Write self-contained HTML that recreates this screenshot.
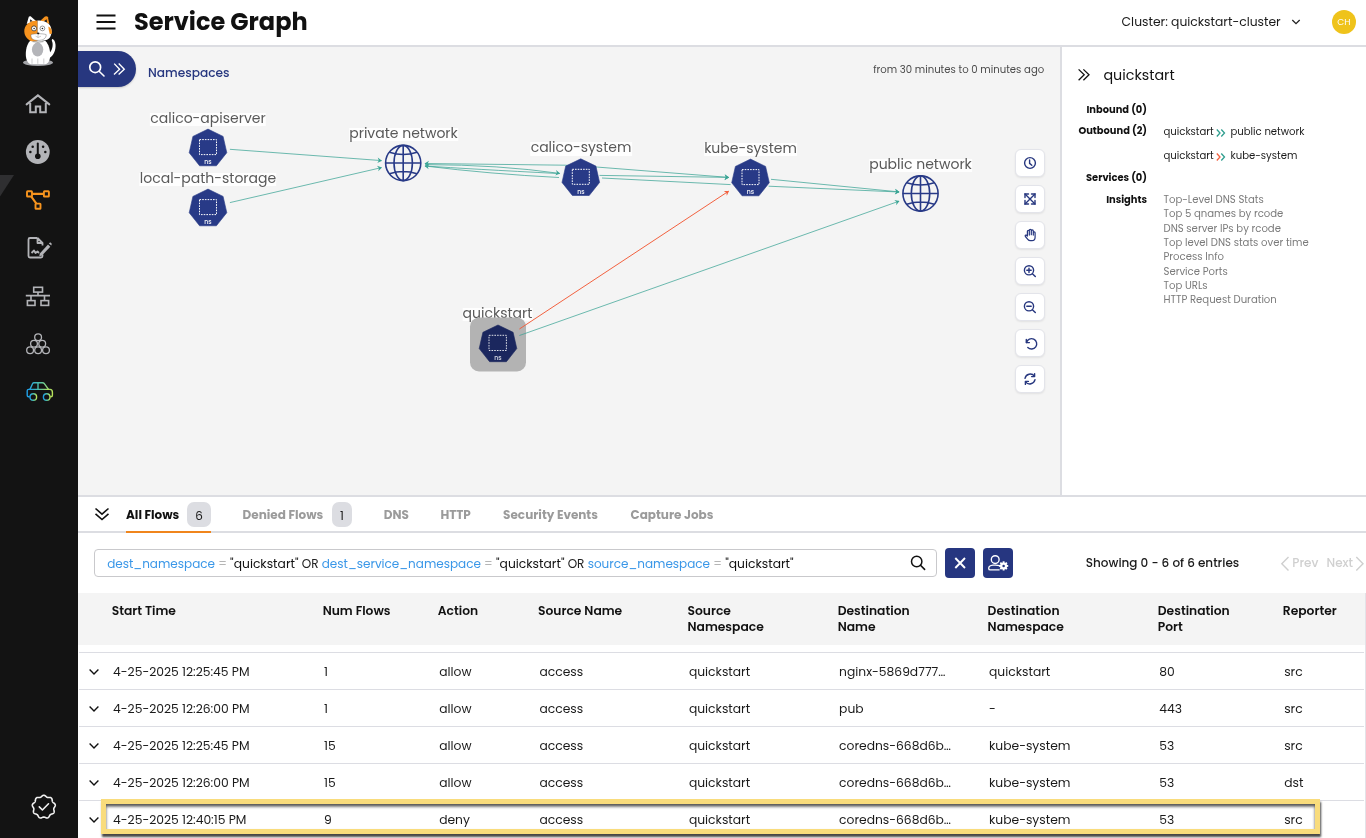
<!DOCTYPE html>
<html><head><meta charset="utf-8"><title>Service Graph</title>
<style>
*{box-sizing:border-box;margin:0;padding:0}
html,body{width:1366px;height:838px;overflow:hidden;background:#fff}
body{position:relative;font-family:Poppins,"DejaVu Sans","Liberation Sans",sans-serif;color:#1a1a1a}
.abs{position:absolute;white-space:nowrap}
#sidebar{left:0;top:0;width:78px;height:838px;background:#131313}
#header{left:78px;top:0;width:1288px;height:45px;background:#fff}
#hline{left:78px;top:45px;width:1288px;height:2px;background:#dcdde2}
#graph{left:78px;top:47px;width:982px;height:448px;background:#f4f4f4;overflow:hidden}
#vdiv{left:1060px;top:47px;width:2px;height:448px;background:#dcdde2}
#panel{left:1062px;top:47px;width:304px;height:448px;background:#fff}
#hdiv{left:78px;top:495px;width:1288px;height:2px;background:#dcdde2}
#tabs{left:78px;top:497px;width:1288px;height:34px;background:#fff}
#tline{left:78px;top:531px;width:1288px;height:2px;background:#dcdde2}
#thead{left:78px;top:593px;width:1287px;height:52px;background:#f4f4f4}
.title{left:134px;top:4.3px;font-size:24px;font-weight:700;line-height:36px;color:#111}
.lbl{transform:translateX(-50%);font-size:14px;line-height:13.3px;height:13.3px;background:rgba(255,255,255,.85);color:#595959;padding:0 .5px}
.lbl span{position:relative;top:-1px}
.tbtn{width:30px;height:28px;background:#fff;border:1px solid #e3e4ea;border-radius:6px;box-shadow:0 1px 2px rgba(0,0,0,.08)}
.tbtn svg{position:absolute;left:-1px;top:-1px}
.p10{font-size:10px;line-height:14px;color:#111;margin-top:.6px}
.tab{top:506.7px;font-size:12px;line-height:16px;font-weight:700;color:#9b9b9b}
.badge{top:502px;height:24.7px;border-radius:7px;background:#dcdde2;font-size:12px;line-height:21.7px;padding-top:3px;text-align:center;color:#1a1a1a}
.fk{color:#3a97e8}.fo{color:#b5b5b5}.fv{color:#111;font-weight:400;font-size:12.3px}
.nbtn{top:548px;width:30px;height:30px;border-radius:4px;background:#263680}
.nbtn svg{display:block}
.th{top:602.7px;font-size:12.3px;line-height:16px;font-weight:600;color:#111}
.td{font-size:12.3px;line-height:16px;color:#1a1a1a}
.rline{left:79px;width:1285px;height:1px;background:#dcdde3}
.hl{left:101px;top:799px;width:1219px;height:35px;border:5px solid #f9dc7c;box-shadow:1px 2.5px 2px rgba(0,0,0,.72), inset 0 2.5px 3px rgba(0,0,0,.68)}
</style></head>
<body>
<div id="root" style="position:absolute;left:0;top:0;width:1366px;height:838px;overflow:hidden;background:#fff;will-change:transform">
<div id="sidebar" class="abs"></div>
<svg class="abs" style="left:0;top:0" width="78" height="838" viewBox="0 0 78 838">
  <!-- active indicator -->
  <polygon points="0,175 14,175 0,196.4" fill="#2f2f31"/>
  <!-- cat logo -->
  <g>
    <ellipse cx="38" cy="62.6" rx="15" ry="3.4" fill="#a3a4a8"/>
    <path d="M49.5 58 C53.5 56 56 50 55.5 44.5 C55.2 41.5 54 39.5 52.6 39 C51.6 39 51.6 40.5 52.3 42 C53.2 45 52.5 50.5 48.8 54 Z" fill="#fff"/>
    <path d="M30 41 C27 44 25.6 50 25.8 55 C26 60 28 63.8 31 64.3 L45 64.3 C48.5 63.8 50.2 60 50.2 55 C50.2 49.5 48.5 44 45.5 41 Z" fill="#fff"/>
    <ellipse cx="37.6" cy="49.6" rx="5.7" ry="7" fill="#b4b5b9"/>
    <path d="M32 58.5 V63.8 M37.8 58.5 V63.8 M43.8 58.5 V63.8" stroke="#9a9a9e" stroke-width=".5"/>
    <path d="M26.7 24 L28.8 16.8 Q29.5 15.8 30.6 16.3 L36 21 Z" fill="#fff"/>
    <path d="M29.8 21.8 L30.4 19.3 L33 21.6 Z" fill="#222"/>
    <path d="M40.3 20.8 L45 16.6 Q47.3 15.6 48 17.3 L49.3 24 Z" fill="#f7931e"/>
    <path d="M43.6 21.5 L46.6 19.2 L47.2 22.8 Z" fill="#222"/>
    <path d="M37.4 20.6 C31.5 20.6 25.6 23.6 24.4 29.5 C23.6 34.5 26.6 39.5 31.4 41.2 L37.4 41.2 Z" fill="#f7931e"/>
    <path d="M37.4 20.6 C43.5 20.6 49 22.6 50.8 27 C52.3 30.5 51.6 35.5 49.5 38 C47.5 40.4 43 41.2 37.4 41.2 Z" fill="#fff"/>
    <path d="M48.3 26.6 C50.8 27.5 52.2 30 51.9 33.6 L49.8 34.2 C49 31.5 48.5 29 48.3 26.6 Z" fill="#f7931e"/>
    <path d="M37.4 21 V33" stroke="#c87a1e" stroke-width=".35"/>
    <circle cx="34" cy="28.4" r="2.5" fill="#fff" stroke="#222" stroke-width=".7"/>
    <circle cx="42.4" cy="28.4" r="2.4" fill="#fff" stroke="#555" stroke-width=".6"/>
    <circle cx="34.1" cy="28.5" r=".8" fill="#222"/>
    <circle cx="42.4" cy="28.5" r=".8" fill="#222"/>
    <path d="M31 34.6 C30.5 38.6 33 40.4 38 40.4 C43 40.4 46.3 38.6 46.2 34.6 C43 33.4 34 33.4 31 34.6 Z" fill="#fff" stroke="#666" stroke-width=".45"/>
    <path d="M35.6 36.2 Q38 38.6 41 36.2 M38 34 V38" fill="none" stroke="#888" stroke-width=".4"/>
    <path d="M36.6 33 Q38.2 32.2 39.6 33 L38.2 34.5 Z" fill="#111"/>
    <path d="M32.5 41.6 Q38 42.6 43.5 41.6" fill="none" stroke="#555" stroke-width=".6"/>
  </g>
  <!-- home -->
  <path d="M26.6 104.4 L37.9 95.4 L49.3 104.4 M30.2 101.6 V112.2 H35.8 V106.4 H40.2 V112.2 H45.8 V101.6" fill="none" stroke="#b3b4b8" stroke-width="2" stroke-linejoin="miter" stroke-linecap="round"/>
  <!-- gauge -->
  <circle cx="37.8" cy="152" r="11.9" fill="#b3b4b8"/>
  <path d="M37.8 143.6 V155" stroke="#131313" stroke-width="2" stroke-linecap="round"/>
  <circle cx="37.8" cy="156.3" r="2.8" fill="#131313"/>
  <circle cx="32.7" cy="146.8" r="1.25" fill="#131313"/>
  <circle cx="43.1" cy="146.8" r="1.25" fill="#131313"/>
  <circle cx="30.4" cy="151.9" r="1.25" fill="#131313"/>
  <circle cx="45.3" cy="151.9" r="1.25" fill="#131313"/>
  <!-- service graph icon (active) -->
  <g fill="none" stroke="#f7941e" stroke-width="1.9" stroke-linejoin="round">
    <rect x="27" y="191.3" width="5" height="5.2" rx=".6"/>
    <rect x="43.9" y="191.3" width="5" height="5.2" rx=".6"/>
    <rect x="35.5" y="203.6" width="5" height="5.2" rx=".6"/>
    <path d="M32 193.9 H43.9 M31.3 196.6 L36.4 203.6" stroke-width="2.1"/>
  </g>
  <!-- document/pen icon -->
  <g fill="none" stroke="#b3b4b8" stroke-width="1.8" stroke-linejoin="round">
    <path d="M37.5 238 H30 Q28.5 238 28.5 239.5 V256 Q28.5 257.5 30 257.5 H41 Q42.5 257.5 42.5 256 V254.5"/>
    <path d="M37.5 238 L42.5 243 V245.5 M37.5 238 V243 H42.5"/>
    <path d="M31.5 253 L34 250.5 L35.5 253 L37.5 251.5 L39 253"/>
  </g>
  <path d="M39.8 253.5 L48 244.5 L50.3 246.8 L42 255.5 L39.3 256.2 Z" fill="#b3b4b8"/>
  <path d="M48.8 243.6 L50.2 242.2 L51.8 243.8 L51.3 245.5 Z" fill="#b3b4b8"/>
  <!-- network icon -->
  <g fill="none" stroke="#b3b4b8" stroke-width="1.6">
    <rect x="33.7" y="287.3" width="8.8" height="4.8"/>
    <path d="M38 292 V295.5 M25.8 295.6 H50 M31 295.5 V300.3 M44.5 295.5 V300.3"/>
    <rect x="27.4" y="300.6" width="7.6" height="4.8"/>
    <rect x="41" y="300.6" width="7.6" height="4.8"/>
  </g>
  <!-- circles pyramid -->
  <g fill="none" stroke="#b3b4b8" stroke-width="1.3">
    <circle cx="38.1" cy="337.2" r="3.4"/>
    <circle cx="34" cy="343.7" r="3.4"/>
    <circle cx="42.2" cy="343.7" r="3.4"/>
    <circle cx="30.1" cy="350.3" r="3.4"/>
    <circle cx="38.1" cy="350.3" r="3.4"/>
    <circle cx="46" cy="350.3" r="3.4"/>
  </g>
  <!-- car -->
  <defs>
    <linearGradient id="carg" x1="0" y1="0" x2="1" y2="0">
      <stop offset="0" stop-color="#1e9ee8"/>
      <stop offset="0.5" stop-color="#4fc0a8"/>
      <stop offset="1" stop-color="#b8e25a"/>
    </linearGradient>
  </defs>
  <g fill="none" stroke="url(#carg)" stroke-width="1.4" stroke-linejoin="round" transform="translate(0 0.8)">
    <path d="M29.8 396 H28.5 Q27.2 396 27.2 394.5 V390 Q27.2 388.6 28.6 388.6 L30 388.6 L32.5 383 Q33 382 34 382 H42.5 Q43.5 382 44.3 382.8 L48.5 388.6 H50 Q52.4 388.8 52.4 391.4 V394.5 Q52.4 396 51 396 H50.2"/>
    <path d="M36.8 396 H43.2"/>
    <path d="M29 388.6 H49 M38 382.2 V388.6"/>
    <circle cx="33.3" cy="396.2" r="3.3"/>
    <circle cx="46.7" cy="396.2" r="3.3"/>
  </g>
  <!-- badge check -->
  <path d="M43.80 795.25 L44.26 795.31 L44.70 795.47 L45.12 795.71 L45.52 796.02 L45.90 796.35 L46.25 796.68 L46.60 796.98 L46.95 797.21 L47.31 797.38 L47.71 797.47 L48.13 797.50 L48.59 797.49 L49.08 797.47 L49.59 797.46 L50.09 797.49 L50.56 797.59 L51.00 797.77 L51.36 798.04 L51.66 798.40 L51.88 798.82 L52.03 799.29 L52.13 799.78 L52.20 800.28 L52.26 800.75 L52.34 801.19 L52.47 801.59 L52.66 801.94 L52.92 802.25 L53.24 802.55 L53.61 802.84 L54.00 803.14 L54.39 803.46 L54.74 803.82 L55.02 804.21 L55.21 804.63 L55.30 805.08 L55.27 805.54 L55.15 806.01 L54.95 806.46 L54.70 806.90 L54.43 807.32 L54.18 807.72 L53.97 808.10 L53.83 808.49 L53.77 808.88 L53.78 809.30 L53.84 809.73 L53.95 810.20 L54.05 810.68 L54.14 811.18 L54.16 811.68 L54.11 812.15 L53.96 812.59 L53.72 812.98 L53.38 813.30 L52.97 813.57 L52.52 813.77 L52.04 813.94 L51.57 814.09 L51.13 814.23 L50.74 814.40 L50.39 814.62 L50.10 814.89 L49.85 815.23 L49.62 815.62 L49.40 816.04 L49.17 816.49 L48.90 816.92 L48.59 817.30 L48.24 817.61 L47.83 817.83 L47.39 817.94 L46.92 817.96 L46.44 817.88 L45.96 817.73 L45.49 817.55 L45.04 817.36 L44.61 817.20 L44.20 817.09 L43.80 817.05 L43.40 817.09 L42.99 817.20 L42.56 817.36 L42.11 817.55 L41.64 817.73 L41.16 817.88 L40.68 817.96 L40.21 817.94 L39.77 817.83 L39.36 817.61 L39.01 817.30 L38.70 816.92 L38.43 816.49 L38.20 816.04 L37.98 815.62 L37.75 815.23 L37.50 814.89 L37.21 814.62 L36.86 814.40 L36.47 814.23 L36.03 814.09 L35.56 813.94 L35.08 813.77 L34.63 813.57 L34.22 813.30 L33.88 812.98 L33.64 812.59 L33.49 812.15 L33.44 811.68 L33.46 811.18 L33.55 810.68 L33.65 810.20 L33.76 809.73 L33.82 809.30 L33.83 808.88 L33.77 808.49 L33.63 808.10 L33.42 807.72 L33.17 807.32 L32.90 806.90 L32.65 806.46 L32.45 806.01 L32.33 805.54 L32.30 805.08 L32.39 804.63 L32.58 804.21 L32.86 803.82 L33.21 803.46 L33.60 803.14 L33.99 802.84 L34.36 802.55 L34.68 802.25 L34.94 801.94 L35.13 801.59 L35.26 801.19 L35.34 800.75 L35.40 800.28 L35.47 799.78 L35.57 799.29 L35.72 798.82 L35.94 798.40 L36.24 798.04 L36.60 797.77 L37.04 797.59 L37.51 797.49 L38.01 797.46 L38.52 797.47 L39.01 797.49 L39.47 797.50 L39.89 797.47 L40.29 797.38 L40.65 797.21 L41.00 796.98 L41.35 796.68 L41.70 796.35 L42.08 796.02 L42.48 795.71 L42.90 795.47 L43.34 795.31 L43.80 795.25 Z" fill="none" stroke="#f2f2f2" stroke-width="1.6" stroke-linejoin="round"/>
  <path d="M39.3 806.9 L42.4 810 L48.5 803.8" fill="none" stroke="#f2f2f2" stroke-width="1.6" stroke-linecap="round" stroke-linejoin="round"/>
</svg>

<div id="header" class="abs"></div>
<svg class="abs" style="left:96px;top:14px" width="20" height="16" viewBox="0 0 20 16">
  <path d="M0.5 1.5 H19.5 M0.5 8 H19.5 M0.5 14.5 H19.5" stroke="#111" stroke-width="1.8"/>
</svg>
<div class="abs title">Service Graph</div>

<div class="abs" style="left:1121.6px;top:13.7px;font-size:12.32px;line-height:16px;color:#1a1a1a">Cluster: quickstart-cluster</div>
<svg class="abs" style="left:1291px;top:18px" width="10" height="8" viewBox="0 0 10 8"><path d="M1.3 2 L5 5.7 L8.7 2" fill="none" stroke="#222" stroke-width="1.3"/></svg>
<div class="abs" style="left:1332px;top:10px;width:24px;height:24px;border-radius:50%;background:#efc31b;color:#fff;font-size:9px;line-height:24px;text-align:center;letter-spacing:.2px">CH</div>
<div id="hline" class="abs"></div>
<div id="graph" class="abs"></div>
<div class="abs lbl" style="left:497.5px;top:308.2px"><span>quickstart</span></div>
<svg class="abs" style="left:78px;top:47px" width="982" height="448" viewBox="78 47 982 448">
  <defs>
    <marker id="ag" viewBox="-5 -4 6 8" markerWidth="6" markerHeight="8" refX="0" refY="0" orient="auto" markerUnits="userSpaceOnUse">
      <path d="M0.5 0 L-4 -2.8 L-2.6 0 L-4 2.8 Z" fill="#3aa595"/>
    </marker>
    <marker id="ar" viewBox="-5 -4 6 8" markerWidth="6" markerHeight="8" refX="0" refY="0" orient="auto" markerUnits="userSpaceOnUse">
      <path d="M0.5 0 L-4 -2.8 L-2.6 0 L-4 2.8 Z" fill="#f2613f"/>
    </marker>
    <g id="hept">
      <path d="M0 -19.3 L15.1 -12 L18.8 4.3 L8.4 17.4 L-8.4 17.4 L-18.8 4.3 L-15.1 -12 Z" stroke-linejoin="round" stroke-width=".6"/>
    </g>
    <g id="globe" fill="none" stroke="#283a87" stroke-width="1.6">
      <circle cx="0" cy="0" r="17.6"/>
      <ellipse cx="0" cy="0" rx="9.2" ry="17.6"/>
      <path d="M0 -17.6 V17.6 M-17.6 0 H17.6 M-13.8 -10.8 Q0 -6.2 13.8 -10.8 M-13.8 10.8 Q0 6.2 13.8 10.8"/>
    </g>
  </defs>
  <!-- quickstart highlight -->
  <rect x="470" y="317.5" width="56" height="54" rx="9" fill="#b3b3b3"/>
  <g fill="none" stroke="#3fa697" stroke-width=".9" stroke-opacity=".85">
    <path d="M229.9 149.3 L381.5 160.6" marker-end="url(#ag)"/>
    <path d="M229.9 202.6 L381.5 167.6" marker-end="url(#ag)"/>
    <path d="M597.5 167.1 L565 165.2 L425 163.5" marker-end="url(#ag)"/>
    <path d="M597.5 167.1 L728.6 177.4" marker-end="url(#ag)"/>
    <path d="M559 177.5 Q490 174 425 166" marker-end="url(#ag)"/>
    <path d="M425 164.6 Q500 164.8 559.6 173.4" marker-end="url(#ag)"/>
    <path d="M425 166 Q470 169 559.6 173.6"/>
    <path d="M599.5 175.4 L728.6 177.4" marker-end="url(#ag)"/>
    <path d="M602 178 L730.6 184.6"/>
    <path d="M771 179.3 L899 191.9" marker-end="url(#ag)"/>
    <path d="M768.6 186.2 L899 192" marker-end="url(#ag)"/>
    <path d="M519.4 335.5 L899 201.2" marker-end="url(#ag)"/>
  </g>
  <path d="M519.4 329 L728.6 191.2" fill="none" stroke="#f2613f" stroke-width="1" marker-end="url(#ar)"/>
  <!-- nodes -->
  <g fill="#283a87" stroke="#283a87">
    <use href="#hept" x="208" y="148.4"/>
    <use href="#hept" x="208" y="208.4"/>
    <use href="#hept" x="580.8" y="178.1"/>
    <use href="#hept" x="750.5" y="178.4"/>
  </g>
  <g fill="#1b275e" stroke="#1b275e">
    <use href="#hept" x="498" y="344.3"/>
  </g>
  <g fill="none" stroke="#fff" stroke-width="1" stroke-dasharray="1.6 1.1">
    <rect x="199.5" y="139.6" width="17" height="15"/>
    <rect x="199.5" y="199.6" width="17" height="15"/>
    <rect x="572.3" y="169.3" width="17" height="15"/>
    <rect x="742.0" y="169.6" width="17" height="15"/>
    <rect x="489.0" y="335.3" width="17.4" height="15.2" stroke-opacity=".85"/>
  </g>
  <g fill="#fff" font-size="6.2" font-weight="500" text-anchor="middle" font-family="Poppins, 'DejaVu Sans', 'Liberation Sans', sans-serif">
    <text x="208" y="164.3">ns</text>
    <text x="208" y="224.3">ns</text>
    <text x="580.8" y="194">ns</text>
    <text x="750.5" y="194.3">ns</text>
    <text x="498" y="360.2" fill-opacity=".85">ns</text>
  </g>
  <use href="#globe" x="403.2" y="163"/>
  <use href="#globe" x="920.5" y="193.5"/>
</svg>
<div class="abs lbl" style="left:208px;top:112.7px"><span>calico-apiserver</span></div>
<div class="abs lbl" style="left:208px;top:172.7px"><span>local-path-storage</span></div>
<div class="abs lbl" style="left:403.5px;top:127.5px"><span>private network</span></div>
<div class="abs lbl" style="left:581px;top:142.4px"><span>calico-system</span></div>
<div class="abs lbl" style="left:750.5px;top:142.7px"><span>kube-system</span></div>
<div class="abs lbl" style="left:920.5px;top:158.5px"><span>public network</span></div>


<div class="abs" style="left:78px;top:51px;width:58px;height:36px;background:#27377f;border-radius:0 18px 18px 0;box-shadow:0 1px 2px rgba(0,0,0,.18)"></div>
<svg class="abs" style="left:84px;top:56px" width="46" height="26" viewBox="84 56 46 26">
  <g fill="none" stroke="#fff" stroke-width="1.6" stroke-linecap="round">
    <circle cx="95.2" cy="67.2" r="5.4" stroke-width="1.7"/>
    <path d="M99.4 71.5 L104 76"/>
    <path d="M114.2 63.6 L119.6 69.2 L114 74.6 M118.7 63.6 L124.3 69.2 L118.6 74.6" stroke-linecap="butt" stroke-width="1.35"/>
  </g>
</svg>
<div class="abs" style="left:148px;top:64px;font-size:12.2px;line-height:18px;font-weight:500;color:#27377f">Namespaces</div>
<div class="abs" style="left:873.2px;top:62px;font-size:10.1px;line-height:16px;color:#4a4a4a">from 30 minutes to 0 minutes ago</div>
<div class="abs tbtn" style="left:1014.5px;top:149px"><svg width="30" height="28" viewBox="0 0 30 28" fill="none" stroke="#27377f" stroke-width="1.4" stroke-linecap="round" stroke-linejoin="round"><circle cx="15" cy="14" r="5.4"/><path d="M14.6 11 V14.4 L16.8 16.3"/></svg></div>
<div class="abs tbtn" style="left:1014.5px;top:185px"><svg width="30" height="28" viewBox="0 0 30 28" fill="none" stroke="#27377f" stroke-width="1.4" stroke-linecap="round" stroke-linejoin="round"><path d="M10 9 L20 19 M20 9 L10 19"/><path d="M10 12.5 V9 H13.5 M16.5 9 H20 V12.5 M20 15.5 V19 H16.5 M13.5 19 H10 V15.5" stroke-linejoin="miter"/></svg></div>
<div class="abs tbtn" style="left:1014.5px;top:221px"><svg width="30" height="28" viewBox="0 0 30 28" fill="none" stroke="#27377f" stroke-width="1.4" stroke-linecap="round" stroke-linejoin="round"><path transform="translate(-0.8 -0.9)" d="M13.2 16 V11.2 Q13.2 10.2 14.2 10.2 Q15.1 10.2 15.1 11.2 V15 M15.1 14.6 V10.2 Q15.1 9.2 16.1 9.2 Q17.1 9.2 17.1 10.2 V14.6 M17.1 14.6 V10.8 Q17.1 9.8 18.1 9.8 Q19.1 9.8 19.1 10.8 V15 M19.1 12.6 Q19.1 11.7 20 11.7 Q20.9 11.7 20.9 12.6 V17.2 Q20.9 20.6 17.8 20.6 H16.2 Q14.6 20.6 13.6 19.2 L11.2 16.4 Q10.6 15.4 11.5 15 Q12.4 14.7 13.2 15.9" stroke-width="1.2"/></svg></div>
<div class="abs tbtn" style="left:1014.5px;top:257px"><svg width="30" height="28" viewBox="0 0 30 28" fill="none" stroke="#27377f" stroke-width="1.4" stroke-linecap="round" stroke-linejoin="round"><circle cx="14" cy="13.3" r="4.6"/><path d="M17.4 16.7 L20.3 19.6 M11.8 13.3 H16.2 M14 11.1 V15.5"/></svg></div>
<div class="abs tbtn" style="left:1014.5px;top:293px"><svg width="30" height="28" viewBox="0 0 30 28" fill="none" stroke="#27377f" stroke-width="1.4" stroke-linecap="round" stroke-linejoin="round"><circle cx="14" cy="13.3" r="4.6"/><path d="M17.4 16.7 L20.3 19.6 M11.8 13.3 H16.2"/></svg></div>
<div class="abs tbtn" style="left:1014.5px;top:329px"><svg width="30" height="28" viewBox="0 0 30 28" fill="none" stroke="#27377f" stroke-width="1.4" stroke-linecap="round" stroke-linejoin="round"><path d="M11.3 10.5 V13.6 H14.4"/><path d="M11.5 13.5 A5.2 5.2 0 1 1 12.8 18.5"/></svg></div>
<div class="abs tbtn" style="left:1014.5px;top:365px"><svg width="30" height="28" viewBox="0 0 30 28" fill="none" stroke="#27377f" stroke-width="1.4" stroke-linecap="round" stroke-linejoin="round"><path d="M10 13.3 A5.3 5.3 0 0 1 19.4 11.2 M20 14.7 A5.3 5.3 0 0 1 10.6 16.8"/><path d="M19.6 8.6 V11.6 H16.6 M10.4 19.4 V16.4 H13.4"/></svg></div>
<div id="vdiv" class="abs"></div>
<div id="panel" class="abs"></div>
<svg class="abs" style="left:1076px;top:67px" width="16" height="16" viewBox="1076 67 16 16"><path d="M1078.6 69.4 L1084.2 74.8 L1078.6 80.2 M1083.4 69.4 L1089 74.8 L1083.4 80.2" fill="none" stroke="#111" stroke-width="1.3"/></svg>
<div class="abs" style="left:1103.4px;top:65.2px;font-size:14.3px;line-height:20px;color:#111">quickstart</div>
<div class="abs p10" style="right:219px;top:102.5px;font-weight:700;font-size:9.9px">Inbound (0)</div>
<div class="abs p10" style="right:219px;top:123.9px;font-weight:700;font-size:9.9px">Outbound (2)</div>
<div class="abs p10" style="right:219px;top:170.7px;font-weight:700;font-size:9.9px">Services (0)</div>
<div class="abs p10" style="right:219px;top:192.3px;font-weight:700;font-size:9.9px">Insights</div>
<div class="abs p10" style="left:1163.5px;top:124.7px;color:#1a1a1a;font-size:10.1px">quickstart</div>
<div class="abs" style="left:0;top:0"><svg width="10" height="10" viewBox="0 0 10 10" style="position:absolute;left:1216px;top:128.2px"><path d="M0.8 1.5 L4 5 L0.8 8.5" fill="none" stroke="#2f9e8f" stroke-width="1.3"/><path d="M5.3 1.5 L8.5 5 L5.3 8.5" fill="none" stroke="#2f9e8f" stroke-width="1.3"/></svg></div>
<div class="abs p10" style="left:1230.5px;top:124.7px;color:#1a1a1a;font-size:10.1px">public network</div>
<div class="abs p10" style="left:1163.5px;top:148.1px;color:#1a1a1a;font-size:10.1px">quickstart</div>
<div class="abs" style="left:0;top:0"><svg width="10" height="10" viewBox="0 0 10 10" style="position:absolute;left:1216px;top:151.6px"><path d="M0.8 1.5 L4 5 L0.8 8.5" fill="none" stroke="#f2613f" stroke-width="1.3"/><path d="M5.3 1.5 L8.5 5 L5.3 8.5" fill="none" stroke="#2f9e8f" stroke-width="1.3"/></svg></div>
<div class="abs p10" style="left:1230.5px;top:148.1px;color:#1a1a1a;font-size:10.1px">kube-system</div>
<div class="abs p10" style="left:1163.5px;top:192.3px;color:#7b7b7b;font-size:10.1px">Top-Level DNS Stats</div>
<div class="abs p10" style="left:1163.5px;top:206.7px;color:#7b7b7b;font-size:10.1px">Top 5 qnames by rcode</div>
<div class="abs p10" style="left:1163.5px;top:221.3px;color:#7b7b7b;font-size:10.1px">DNS server IPs by rcode</div>
<div class="abs p10" style="left:1163.5px;top:235.7px;color:#7b7b7b;font-size:10.1px">Top level DNS stats over time</div>
<div class="abs p10" style="left:1163.5px;top:249.4px;color:#7b7b7b;font-size:10.1px">Process Info</div>
<div class="abs p10" style="left:1163.5px;top:264.3px;color:#7b7b7b;font-size:10.1px">Service Ports</div>
<div class="abs p10" style="left:1163.5px;top:278.4px;color:#7b7b7b;font-size:10.1px">Top URLs</div>
<div class="abs p10" style="left:1163.5px;top:292.5px;color:#7b7b7b;font-size:10.1px">HTTP Request Duration</div>

<div id="hdiv" class="abs"></div>
<div id="tabs" class="abs"></div>
<div id="tline" class="abs"></div>
<svg class="abs" style="left:93px;top:506px" width="18" height="16" viewBox="93 506 18 16"><path d="M95.5 508.5 L102 514.2 L108.5 508.5 M95.5 513.8 L102 519.5 L108.5 513.8" fill="none" stroke="#111" stroke-width="1.6"/></svg>
<div class="abs tab" style="left:126px;color:#111">All Flows</div>
<div class="abs badge" style="left:187px;width:24px">6</div>
<div class="abs" style="left:126px;top:531px;width:85px;height:2px;background:#f0851c"></div>
<div class="abs tab" style="left:242.6px">Denied Flows</div>
<div class="abs badge" style="left:332px;width:20px">1</div>
<div class="abs tab" style="left:383.7px">DNS</div>
<div class="abs tab" style="left:440.4px">HTTP</div>
<div class="abs tab" style="left:503.1px">Security Events</div>
<div class="abs tab" style="left:630.5px">Capture Jobs</div>

<div id="thead" class="abs"></div>

<div class="abs" style="left:94px;top:549px;width:843px;height:28px;border:1px solid #c9c9cc;border-radius:4px;background:#fff"></div>
<div class="abs" style="left:107.2px;top:555.5px;font-size:12px;line-height:16px;color:#222"><span class="fk">dest_namespace</span> <span class="fo">=</span> <span class="fv">"quickstart"</span> OR <span class="fk">dest_service_namespace</span> <span class="fo">=</span> <span class="fv">"quickstart"</span> OR <span class="fk">source_namespace</span> <span class="fo">=</span> <span class="fv">"quickstart"</span></div>
<svg class="abs" style="left:908px;top:553px" width="22" height="22" viewBox="908 553 22 22"><circle cx="916.7" cy="561.5" r="5.2" fill="none" stroke="#111" stroke-width="1.5"/><path d="M920.5 565.3 L924.6 569.4" stroke="#111" stroke-width="1.6" stroke-linecap="round"/></svg>
<div class="abs nbtn" style="left:945px"><svg width="30" height="30" viewBox="0 0 30 30"><path d="M10.3 10 L20 20 M20 10 L10.3 20" stroke="#fff" stroke-width="1.9"/></svg></div>
<div class="abs nbtn" style="left:983px"><svg width="30" height="30" viewBox="0 0 30 30"><g fill="none" stroke="#fff" stroke-width="1.35"><circle cx="12.2" cy="11.6" r="3.9"/><path d="M16.6 21.9 H7.2 Q5.7 21.9 5.7 20.4 Q5.7 17.4 10 17.1 Q11.5 17.1 12.6 17.1 Q14.8 17.1 16.3 17.6"/></g><g transform="translate(20.6 17.9)" fill="#fff"><circle r="3.5"/><rect x="-0.95" y="-4.6" width="1.9" height="2.4" transform="rotate(0)"/><rect x="-0.95" y="-4.6" width="1.9" height="2.4" transform="rotate(45)"/><rect x="-0.95" y="-4.6" width="1.9" height="2.4" transform="rotate(90)"/><rect x="-0.95" y="-4.6" width="1.9" height="2.4" transform="rotate(135)"/><rect x="-0.95" y="-4.6" width="1.9" height="2.4" transform="rotate(180)"/><rect x="-0.95" y="-4.6" width="1.9" height="2.4" transform="rotate(225)"/><rect x="-0.95" y="-4.6" width="1.9" height="2.4" transform="rotate(270)"/><rect x="-0.95" y="-4.6" width="1.9" height="2.4" transform="rotate(315)"/><circle r="1.25" fill="#263680"/></g></svg></div>
<div class="abs" style="left:1085.8px;top:554.5px;font-size:12px;line-height:16px;font-weight:500;color:#1a1a1a">Showing 0 - 6 of 6 entries</div>
<svg class="abs" style="left:1280px;top:556px" width="10" height="16" viewBox="0 0 10 16"><path d="M8.5 1 L1.8 7.8 L8.5 14.6" fill="none" stroke="#cfcfcf" stroke-width="1.4"/></svg>
<div class="abs" style="left:1292.3px;top:555px;font-size:12px;line-height:16px;font-weight:500;color:#d0d0d0">Prev</div>
<div class="abs" style="left:1326.5px;top:555px;font-size:12px;line-height:16px;font-weight:500;color:#d0d0d0">Next</div>
<svg class="abs" style="left:1355px;top:556px" width="10" height="16" viewBox="0 0 10 16"><path d="M1.3 1 L8 7.8 L1.3 14.6" fill="none" stroke="#cfcfcf" stroke-width="1.4"/></svg>
<!--TABLE-->
<div class="abs th" style="left:111.7px">Start Time</div>
<div class="abs th" style="left:322.7px">Num Flows</div>
<div class="abs th" style="left:437.8px">Action</div>
<div class="abs th" style="left:538px">Source Name</div>
<div class="abs th" style="left:687.5px">Source<br>Namespace</div>
<div class="abs th" style="left:837.7px">Destination<br>Name</div>
<div class="abs th" style="left:987.6px">Destination<br>Namespace</div>
<div class="abs th" style="left:1157.8px">Destination<br>Port</div>
<div class="abs th" style="left:1282.8px">Reporter</div>
<div class="abs rline" style="top:652px"></div>
<svg class="abs" style="left:88px;top:668px" width="12" height="8" viewBox="0 0 12 8"><path d="M1.6 1.6 L6 5.9 L10.4 1.6" fill="none" stroke="#111" stroke-width="1.4"/></svg>
<div class="abs rline" style="top:689px"></div>
<svg class="abs" style="left:88px;top:705px" width="12" height="8" viewBox="0 0 12 8"><path d="M1.6 1.6 L6 5.9 L10.4 1.6" fill="none" stroke="#111" stroke-width="1.4"/></svg>
<div class="abs rline" style="top:726px"></div>
<svg class="abs" style="left:88px;top:742px" width="12" height="8" viewBox="0 0 12 8"><path d="M1.6 1.6 L6 5.9 L10.4 1.6" fill="none" stroke="#111" stroke-width="1.4"/></svg>
<div class="abs rline" style="top:763px"></div>
<svg class="abs" style="left:88px;top:779px" width="12" height="8" viewBox="0 0 12 8"><path d="M1.6 1.6 L6 5.9 L10.4 1.6" fill="none" stroke="#111" stroke-width="1.4"/></svg>
<div class="abs rline" style="top:800px"></div>
<svg class="abs" style="left:88px;top:816px" width="12" height="8" viewBox="0 0 12 8"><path d="M1.6 1.6 L6 5.9 L10.4 1.6" fill="none" stroke="#111" stroke-width="1.4"/></svg>
<div class="abs td" style="left:113.1px;top:663.5px">4-25-2025 12:25:45 PM</div>
<div class="abs td" style="left:324.1px;top:663.5px">1</div>
<div class="abs td" style="left:439.2px;top:663.5px">allow</div>
<div class="abs td" style="left:539.4px;top:663.5px">access</div>
<div class="abs td" style="left:688.9px;top:663.5px">quickstart</div>
<div class="abs td" style="left:839.1px;top:663.5px">nginx-5869d777…</div>
<div class="abs td" style="left:989.0px;top:663.5px">quickstart</div>
<div class="abs td" style="left:1159.2px;top:663.5px">80</div>
<div class="abs td" style="left:1284.2px;top:663.5px">src</div>
<div class="abs td" style="left:113.1px;top:700.5px">4-25-2025 12:26:00 PM</div>
<div class="abs td" style="left:324.1px;top:700.5px">1</div>
<div class="abs td" style="left:439.2px;top:700.5px">allow</div>
<div class="abs td" style="left:539.4px;top:700.5px">access</div>
<div class="abs td" style="left:688.9px;top:700.5px">quickstart</div>
<div class="abs td" style="left:839.1px;top:700.5px">pub</div>
<div class="abs td" style="left:989.0px;top:700.5px">-</div>
<div class="abs td" style="left:1159.2px;top:700.5px">443</div>
<div class="abs td" style="left:1284.2px;top:700.5px">src</div>
<div class="abs td" style="left:113.1px;top:737.5px">4-25-2025 12:25:45 PM</div>
<div class="abs td" style="left:324.1px;top:737.5px">15</div>
<div class="abs td" style="left:439.2px;top:737.5px">allow</div>
<div class="abs td" style="left:539.4px;top:737.5px">access</div>
<div class="abs td" style="left:688.9px;top:737.5px">quickstart</div>
<div class="abs td" style="left:839.1px;top:737.5px">coredns-668d6b…</div>
<div class="abs td" style="left:989.0px;top:737.5px">kube-system</div>
<div class="abs td" style="left:1159.2px;top:737.5px">53</div>
<div class="abs td" style="left:1284.2px;top:737.5px">src</div>
<div class="abs td" style="left:113.1px;top:774.5px">4-25-2025 12:26:00 PM</div>
<div class="abs td" style="left:324.1px;top:774.5px">15</div>
<div class="abs td" style="left:439.2px;top:774.5px">allow</div>
<div class="abs td" style="left:539.4px;top:774.5px">access</div>
<div class="abs td" style="left:688.9px;top:774.5px">quickstart</div>
<div class="abs td" style="left:839.1px;top:774.5px">coredns-668d6b…</div>
<div class="abs td" style="left:989.0px;top:774.5px">kube-system</div>
<div class="abs td" style="left:1159.2px;top:774.5px">53</div>
<div class="abs td" style="left:1284.2px;top:774.5px">dst</div>
<div class="abs hl"></div>
<div class="abs td" style="left:113.1px;top:811.5px">4-25-2025 12:40:15 PM</div>
<div class="abs td" style="left:324.1px;top:811.5px">9</div>
<div class="abs td" style="left:439.2px;top:811.5px">deny</div>
<div class="abs td" style="left:539.4px;top:811.5px">access</div>
<div class="abs td" style="left:688.9px;top:811.5px">quickstart</div>
<div class="abs td" style="left:839.1px;top:811.5px">coredns-668d6b…</div>
<div class="abs td" style="left:989.0px;top:811.5px">kube-system</div>
<div class="abs td" style="left:1159.2px;top:811.5px">53</div>
<div class="abs td" style="left:1284.2px;top:811.5px">src</div>
<div class="abs" style="left:1365px;top:593px;width:1px;height:245px;background:#e3e3e8"></div>
<!--/TABLE-->

</div>
</body></html>
